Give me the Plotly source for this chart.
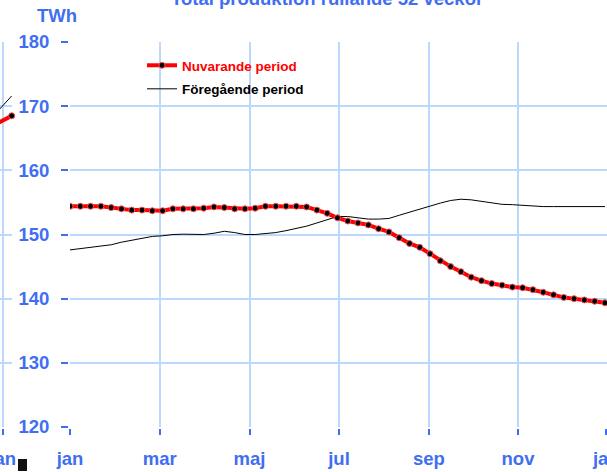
import plotly.graph_objects as go

# ---------------- data ----------------
weeks = list(range(53))
nuvarande = [154.4, 154.4, 154.4, 154.4, 154.2, 154.0, 153.8, 153.8, 153.7, 153.7,
             154.0, 154.0, 154.0, 154.1, 154.3, 154.2, 154.0, 154.0, 154.1, 154.4,
             154.4, 154.4, 154.4, 154.3, 153.8, 153.3, 152.6, 152.1, 151.8, 151.5,
             150.9, 150.4, 149.5, 148.6, 148.0, 147.0, 145.9, 145.0, 144.2, 143.35,
             142.8, 142.35, 142.1, 141.8, 141.7, 141.4, 141.0, 140.6, 140.2, 140.0,
             139.8, 139.6, 139.35]
foregaende = [147.6, 147.8, 148.0, 148.2, 148.4, 148.8, 149.1, 149.5, 149.7, 149.8,
              150.0, 150.05, 150.05, 150.0, 150.2, 150.5, 150.3, 150.0, 150.0, 150.1,
              150.3, 150.6, 150.9, 151.3, 151.8, 152.3, 152.8, 152.8, 152.6, 152.4,
              152.4, 152.5, 153.0, 153.5, 154.0, 154.5, 154.9, 155.3, 155.5, 155.4,
              155.2, 155.0, 154.7, 154.65, 154.55, 154.35, 154.35, 154.35, 154.35, 154.35,
              154.35, 154.35, 154.35]
month_ticks = [0, 8.73, 17.45, 26.15, 34.88, 43.55, 52.13]
month_labels = ["jan", "mar", "maj", "jul", "sep", "nov", "jan"]
y_ticks = [120, 130, 140, 150, 160, 170, 180]

# tail of the neighbouring (previous) chart visible at the left edge
prev_weeks = [51, 52]
prev_nuvarande = [167.3, 168.5]
prev_foregaende = [169.1, 171.6]
prev_tick = [51.385]
prev_label = ["jan"]

# ---------------- style ----------------
W, H = 607, 472
BLUE = "#3f6ef3"
GRID = "#bcd9fb"
FONT = "Liberation Sans, Arial, sans-serif"

def px(x):
    return x / W

def py(y):
    return 1 - y / H

ydom = [py(427), py(42)]

fig = go.Figure()

# main chart
fig.add_trace(go.Scatter(
    x=weeks, y=nuvarande, mode="lines+markers",
    name="<b><span style='color:#ff0000'>Nuvarande period</span></b>",
    line=dict(color="#ff0000", width=4),
    marker=dict(color="black", size=6, line=dict(color="#ff5050", width=1)),
    cliponaxis=False, zorder=2, legendgroup="a",
    xaxis="x", yaxis="y"))
fig.add_trace(go.Scatter(
    x=weeks, y=foregaende, mode="lines",
    name="<b><span style='color:#000000'>Föregående period</span></b>",
    line=dict(color="black", width=1),
    zorder=1, legendgroup="b",
    xaxis="x", yaxis="y"))

# left sliver (neighbouring chart)
fig.add_trace(go.Scatter(
    x=prev_weeks, y=prev_foregaende, mode="lines",
    line=dict(color="black", width=1), showlegend=False,
    xaxis="x2", yaxis="y2"))
fig.add_trace(go.Scatter(
    x=prev_weeks, y=prev_nuvarande, mode="lines+markers",
    line=dict(color="#ff0000", width=4),
    marker=dict(color="black", size=6, line=dict(color="#ff5050", width=1)),
    cliponaxis=False, showlegend=False,
    xaxis="x2", yaxis="y2"))

axis_font = dict(family=FONT, size=18.5, color=BLUE, weight="bold")

fig.update_layout(
    template="none",
    width=W, height=H,
    margin=dict(l=0, r=0, t=0, b=0, autoexpand=False),
    paper_bgcolor="white", plot_bgcolor="white",
    showlegend=True,
    legend=dict(x=px(142), y=py(50), xanchor="left", yanchor="top",
                bgcolor="rgba(0,0,0,0)",
                font=dict(family=FONT, size=13.5, weight="bold"),
                traceorder="grouped", tracegroupgap=3,
                itemwidth=30),
    xaxis=dict(domain=[px(70), 1], range=[0, 52.2], anchor="y", automargin=False,
               tickmode="array", tickvals=month_ticks, ticktext=month_labels,
               ticklabeloverflow="allow",
               showgrid=True, gridcolor=GRID, gridwidth=1.5,
               showline=True, linecolor=BLUE, linewidth=2,
               ticks="outside", ticklen=6, tickwidth=2, tickcolor=BLUE,
               tickfont=axis_font, ticklabelstandoff=8, zeroline=False),
    yaxis=dict(domain=ydom, range=[120, 180], anchor="x", automargin=False,
               tickmode="array", tickvals=y_ticks,
               showgrid=True, gridcolor=GRID, gridwidth=1.5,
               showline=True, linecolor=BLUE, linewidth=2,
               ticks="outside", ticklen=7, tickwidth=2, tickcolor=BLUE,
               tickfont=axis_font, ticklabelstandoff=8, zeroline=False),
    xaxis2=dict(domain=[0, px(12)], range=[51.2, 52.02], anchor="y2", automargin=False,
                tickmode="array", tickvals=prev_tick, ticktext=prev_label,
                ticklabeloverflow="allow",
                showgrid=True, gridcolor=GRID, gridwidth=1.5,
                showline=True, linecolor=BLUE, linewidth=2,
                ticks="outside", ticklen=6, tickwidth=2, tickcolor=BLUE,
                tickfont=axis_font, ticklabelstandoff=8, zeroline=False),
    yaxis2=dict(domain=ydom, range=[120, 180], anchor="x2", automargin=False,
                tickmode="array", tickvals=y_ticks, showticklabels=False,
                showgrid=True, gridcolor=GRID, gridwidth=1.5,
                showline=False, ticks="", zeroline=False),
    annotations=[
        dict(text="<b>Total produktion rullande 52 veckor</b>",
             xref="paper", yref="paper", x=px(327), y=py(-1),
             xanchor="center", yanchor="middle", showarrow=False,
             font=dict(family=FONT, size=18.5, color=BLUE)),
        dict(text="<b>TWh</b>",
             xref="paper", yref="paper", x=px(57), y=py(15.5),
             xanchor="center", yanchor="middle", showarrow=False,
             font=dict(family=FONT, size=18.5, color=BLUE)),
    ],
    shapes=[
        dict(type="rect", xref="paper", yref="paper",
             x0=px(18), x1=px(27), y0=py(471), y1=py(459),
             fillcolor="#111111", line=dict(width=0)),
    ],
)

fig.write_html(
    "out.html",
    config={"displayModeBar": False},
    post_script="document.body.style.margin='0';document.body.style.padding='0';",
)
